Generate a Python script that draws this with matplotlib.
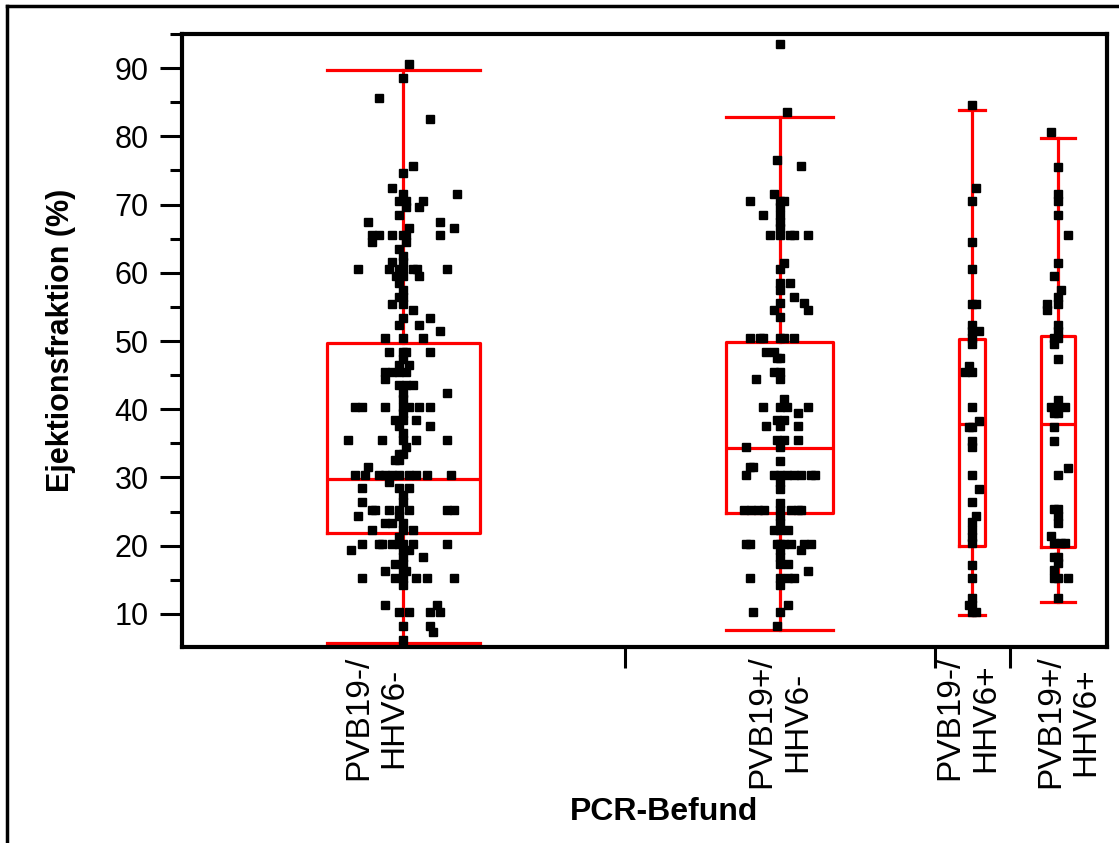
import numpy as np
import matplotlib
matplotlib.use("Agg")
import matplotlib.pyplot as plt
from matplotlib.lines import Line2D
from matplotlib.transforms import ScaledTranslation

plt.rcParams['font.family'] = ['Liberation Sans', 'DejaVu Sans']

# groups (x width in JMP is proportional to group size)
groups = ["PVB19-/\nHHV6-", "PVB19+/\nHHV6-", "PVB19-/\nHHV6+", "PVB19+/\nHHV6+"]
group_n = [177, 124, 30, 39]

# box statistics
box_whislo = [5.8, 7.6, 9.8, 11.8]
box_q1 = [21.8, 24.8, 19.9, 19.8]
box_med = [29.8, 34.3, 37.8, 37.9]
box_q3 = [49.7, 49.9, 50.3, 50.8]
box_whishi = [89.7, 82.8, 83.8, 79.8]

# single observations, values and horizontal jitter (pixels from group centre)
g1_vals = [90.6, 88.5, 85.6, 82.5, 75.6, 74.6, 72.5, 71.5, 71.5, 70.5, 70.5, 70.5,
           69.6, 69.6, 68.5, 67.5, 67.5, 66.5, 66.5,
           65.5, 65.5, 65.5, 65.5, 65.5, 65.5, 64.5, 64.5, 63.5, 62.5, 61.6, 61.6,
           60.5, 60.5, 60.5, 60.5, 60.5, 60.5, 60.5, 59.5, 59.5, 59.5, 58.5, 57.5,
           56.5, 56.5, 55.4, 55.4, 54.5, 53.4, 53.4, 52.4, 52.4, 51.5,
           50.4, 50.4, 50.4, 48.4, 48.4, 48.4, 48.4, 47.4, 46.5, 46.5,
           45.5, 45.5, 45.5, 45.5, 44.5, 43.5, 43.5, 43.5, 42.4, 42.4, 41.5,
           40.4, 40.4, 40.4, 40.4, 40.4, 40.4, 40.4, 39.4, 38.4, 38.4, 38.4, 37.5, 37.5, 36.5,
           35.5, 35.5, 35.5, 35.5, 35.5, 34.5, 33.5, 33.5, 32.5, 32.5, 31.6,
           30.4, 30.4, 30.4, 30.4, 30.4, 30.4, 30.4, 30.4, 30.4, 30.4,
           29.3, 28.4, 28.4, 28.4, 27.4, 26.4, 26.4,
           25.3, 25.3, 25.3, 25.3, 25.3, 25.3, 25.3, 24.3, 24.3, 23.3, 23.3, 23.3,
           22.3, 22.3, 22.3, 21.3,
           20.3, 20.3, 20.3, 20.3, 20.3, 20.3, 20.3, 20.3, 19.3, 19.3, 19.3,
           18.3, 18.3, 17.3, 17.3, 16.3, 16.3, 16.3,
           15.3, 15.3, 15.3, 15.3, 15.3, 15.3, 14.3, 11.3, 11.3,
           10.3, 10.3, 10.3, 10.3, 8.2, 8.2, 7.3, 6.2]
g1_jit = [6, 0, -24, 27, 10, 0, -11, 0, 54, -4, 3, 20,
          3, 16, -4, -35, 37, 6, 51,
          -31, -24, -11, 0, 3, 37, -31, 3, -4, 0, -11, 0,
          -45, -14, -4, 0, 10, 14, 44, -7, 0, 16, -4, 0,
          -4, 0, -11, 0, 10, 0, 27, -4, 16, 37,
          -18, 0, 20, -14, 0, 3, 27, 0, -4, 6,
          -18, -11, -4, 3, -18, -4, 3, 10, 0, 44, 0,
          -48, -41, -18, 0, 6, 16, 27, 0, -8, 0, 13, -4, 27, 0,
          -55, -21, 0, 13, 44, 3, -4, 0, -8, -4, -35,
          -48, -38, -24, -18, -11, -4, 6, 13, 24, 48,
          -14, -41, -4, 6, 0, -41, 0,
          -31, -28, -14, -4, 6, 44, 51, -45, -4, -18, -11, 0,
          -31, 0, 10, -4,
          -41, -24, -21, -11, -4, 0, 10, 44, -52, 0, 6,
          20, 0, -8, 0, -18, 0, 3,
          -41, -8, 0, 13, 24, 51, 0, -18, 34,
          -4, 6, 27, 37, 0, 27, 30, 0]

g2_vals = [93.6, 83.5, 76.5, 75.6, 71.5, 70.5, 70.5, 70.5, 69.6, 68.5, 68.5, 67.5, 66.6,
           65.5, 65.5, 65.5, 65.5, 65.5, 61.5, 60.5, 58.5, 58.5, 57.5, 56.5,
           55.5, 55.5, 54.5, 54.5, 53.5,
           50.4, 50.4, 50.4, 50.4, 50.4, 50.4, 48.4, 48.4, 47.5, 47.5, 45.5, 45.5,
           44.4, 44.4, 41.5, 40.4, 40.4, 40.4, 40.4, 39.4, 38.4, 38.4,
           37.5, 37.5, 37.5, 35.5, 35.5, 35.5, 34.5, 34.5, 32.4, 31.5, 31.5,
           30.4, 30.4, 30.4, 30.4, 30.4, 30.4, 30.4, 30.4, 29.4, 28.3, 26.3,
           25.3, 25.3, 25.3, 25.3, 25.3, 25.3, 25.3, 25.3, 24.3, 23.3, 22.3, 22.3, 22.3,
           20.3, 20.3, 20.3, 20.3, 20.3, 20.3, 20.3, 20.3, 19.3, 19.3, 18.3,
           17.3, 17.3, 16.3, 15.3, 15.3, 15.3, 15.3, 14.3, 11.3, 10.3, 10.3, 8.2]
g2_jit = [0, 7, -3, 21, -6, -30, 0, 4, 0, -17, 0, 0, 0,
          -10, 0, 10, 14, 28, 4, 0, 0, 10, 0, 14,
          0, 24, -6, 28, 0,
          -30, -20, -17, 0, 4, 14, -14, -6, -3, 0, -6, 0,
          -24, 0, 4, -17, 0, 7, 28, 18, -3, 4,
          -14, 0, 18, -3, 4, 18, -34, 0, 0, -30, -27,
          -34, -6, 0, 7, 14, 21, 31, 35, 0, 0, 0,
          -36, -29, -22, -16, 0, 11, 18, 21, 0, 0, -6, 0, 8,
          -34, -30, -3, 0, 4, 11, 24, 31, 0, 21, 0,
          0, 8, 28, -30, 0, 8, 14, 0, 8, -27, 0, -3]

g3_vals = [84.6, 72.5, 70.5, 64.5, 60.5, 55.4, 55.4, 52.4, 51.4, 51.4, 50.4, 49.5,
           46.4, 45.4, 45.4, 40.4, 38.3, 37.4, 37.4, 35.3, 34.4, 30.4, 28.3, 26.4,
           24.3, 23.4, 22.3, 21.3, 20.4, 17.2, 15.2, 12.3, 11.3, 11.3, 10.3, 10.3]
g3_jit = [0, 4, 0, 0, 0, 0, 4, 0, 0, 7, 0, 0,
          -3, -7, 0, 0, 7, -3, 0, 0, 0, 0, 7, 0,
          4, 0, 0, 0, 0, 0, 0, 0, -3, 0, 0, 4]

g4_vals = [80.6, 75.5, 71.5, 70.5, 68.5, 65.5, 61.5, 59.5, 57.5, 56.5, 55.4, 55.4,
           54.5, 52.4, 51.4, 50.4, 50.4, 49.5, 47.4, 41.4, 40.4, 40.4, 40.4, 39.4, 39.4,
           37.4, 35.3, 31.4, 30.4, 25.4, 25.4, 24.4, 23.3, 21.4, 20.4, 20.4, 20.4,
           18.3, 18.3, 17.4, 16.4, 15.3, 15.3, 15.3, 12.3]
g4_jit = [-7, 0, 0, 0, 0, 10, 0, -4, 3, 0, -11, 0,
          -11, 0, 0, -4, 0, -4, 0, 0, -7, 0, 7, -4, 0,
          -4, -4, 10, 0, -4, 0, 0, 0, -7, -4, 3, 7,
          -4, 0, 0, -4, -4, 0, 10, 0]

point_vals = [g1_vals, g2_vals, g3_vals, g4_vals]
point_jit = [g1_jit, g2_jit, g3_jit, g4_jit]

RED = "#ff0000"
fig = plt.figure(figsize=(11.19, 8.43), dpi=100)
ax = fig.add_axes([182 / 1119, 1 - 647 / 843, (1107 - 182) / 1119, (647 - 34) / 843])

edges = np.concatenate([[0], np.cumsum(group_n)])
centers = (edges[:-1] + edges[1:]) / 2
widths = [0.345 * n for n in group_n]
px_to_x = edges[-1] / (1107 - 182)

stats = []
for i in range(len(groups)):
    stats.append(dict(med=box_med[i], q1=box_q1[i], q3=box_q3[i],
                      whislo=box_whislo[i], whishi=box_whishi[i], fliers=[]))
lp = dict(color=RED, linewidth=2.3)
ax.bxp(stats, positions=centers, widths=widths, capwidths=widths, showfliers=False,
       boxprops=lp, whiskerprops=lp, capprops=lp, medianprops=lp,
       manage_ticks=False, zorder=2)

for i in range(len(groups)):
    xs = centers[i] + np.array(point_jit[i]) * px_to_x
    ax.plot(xs, point_vals[i], linestyle='none', marker='s', markersize=5.3,
            color='black', zorder=3)

ax.set_xlim(edges[0], edges[-1])
ax.set_ylim(5.15, 95)

# y ticks
ax.set_yticks(np.arange(10, 91, 10))
ax.set_yticks(np.arange(15, 96, 10), minor=True)
ax.tick_params(axis='y', which='major', length=16, width=2.2, labelsize=22, pad=8,
               direction='out')
ax.tick_params(axis='y', which='minor', length=8.5, width=2.2, direction='out')

# x: separators as major ticks, labels at group centres
ax.set_xticks(edges[1:-1])
ax.set_xticklabels([])
ax.set_xticks(centers, minor=True)
ax.set_xticklabels(groups, minor=True, rotation=90, fontsize=24, linespacing=1.2,
                   ha='center', va='top')
ax.tick_params(axis='x', which='major', length=15, width=2.2, direction='out')
ax.tick_params(axis='x', which='minor', length=0, pad=6)

# nudge labels sideways like the original layout
label_shift_px = [-27, 0, -4, 10]
for lab, dx in zip(ax.get_xticklabels(minor=True), label_shift_px):
    lab.set_transform(lab.get_transform() + ScaledTranslation(dx / 100, 0, fig.dpi_scale_trans))

for s in ax.spines.values():
    s.set_linewidth(3)

ax.set_ylabel("Ejektionsfraktion (%)", fontsize=22, fontweight='bold')
ax.yaxis.set_label_coords((76 - 182) / 925, 0.5)
ax.set_xlabel("PCR-Befund", fontsize=23, fontweight='bold')
ax.xaxis.set_label_coords((664 - 182) / 925, -(797 - 647) / 613)

# outer frame (left and top only)
fig.add_artist(Line2D([7 / 1119, 7 / 1119], [0, 1 - 6 / 843], color='black', linewidth=2.5,
                      transform=fig.transFigure))
fig.add_artist(Line2D([7 / 1119, 1], [1 - 6 / 843, 1 - 6 / 843], color='black', linewidth=2.5,
                      transform=fig.transFigure))

fig.savefig("out.png", dpi=100)
